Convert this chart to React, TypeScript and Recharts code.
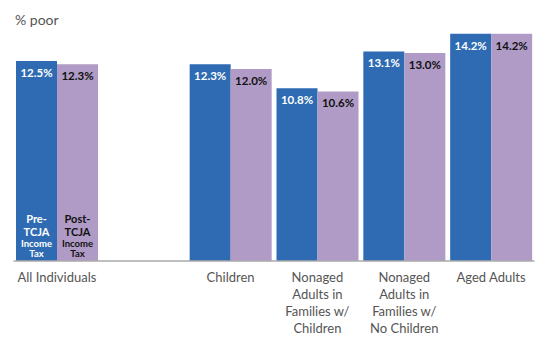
import { BarChart, Bar, XAxis, YAxis, LabelList } from "recharts";

const categories = [
  "All Individuals",
  "",
  "Children",
  "Nonaged\nAdults in\nFamilies w/\nChildren",
  "Nonaged\nAdults in\nFamilies w/\nNo Children",
  "Aged Adults",
];
const preTcja = [12.5, null, 12.3, 10.8, 13.1, 14.2];
const postTcja = [12.3, null, 12.0, 10.6, 13.0, 14.2];

const data = categories.map((name, i) => ({ name, pre: preTcja[i], post: postTcja[i] }));

const BLUE = "#2e6bb3";
const PURPLE = "#af9bc5";
const FONT = "Lato, 'Open Sans', sans-serif";

function CategoryTick(props: any) {
  const { x, y, payload } = props;
  const lines = String(payload.value).split("\n");
  return (
    <text x={x} y={y} textAnchor="middle" fill="#555" fontSize={13} fontFamily={FONT}>
      {lines.map((l, i) => (
        <tspan key={i} x={x} dy={i === 0 ? 13 : 17}>{l}</tspan>
      ))}
    </text>
  );
}

function valueLabel(color: string) {
  return (props: any) => {
    const { x, y, width, value } = props;
    if (value == null) return null;
    return (
      <text x={x + width / 2} y={y + 16} textAnchor="middle" fill={color}
        fontSize={11.5} fontWeight="bold" fontFamily={FONT}>
        {value.toFixed(1)}%
      </text>
    );
  };
}

function seriesLabel(color: string, first: string) {
  return (props: any) => {
    const { x, y, width, height, index } = props;
    if (index !== 0) return null;
    const cx = x + width / 2;
    const bottom = y + height;
    return (
      <text textAnchor="middle" fill={color} fontWeight="bold" fontFamily={FONT}>
        <tspan x={cx} y={bottom - 38} fontSize={11}>{first}</tspan>
        <tspan x={cx} y={bottom - 25} fontSize={11}>TCJA</tspan>
        <tspan x={cx} y={bottom - 14} fontSize={9.5}>Income</tspan>
        <tspan x={cx} y={bottom - 4} fontSize={9.5}>Tax</tspan>
      </text>
    );
  };
}

export default function App() {
  return (
    <div style={{ position: "absolute", left: 0, top: 0, background: "#fff" }}>
      <BarChart
        width={549}
        height={358}
        data={data}
        margin={{ top: 21, right: 14.5, left: 13.5, bottom: 0 }}
        barCategoryGap={2.5}
        barGap={0}
      >
        <text x={15} y={25} fill="#555" fontSize={14} fontFamily={FONT}>% poor</text>
        <YAxis hide domain={[0, 15]} />
        <XAxis
          dataKey="name"
          height={97}
          interval={0}
          tickLine={false}
          axisLine={{ stroke: "#aaa", strokeWidth: 1.5 }}
          tick={<CategoryTick />}
        />
        <Bar dataKey="pre" fill={BLUE} isAnimationActive={false}>
          <LabelList dataKey="pre" content={valueLabel("#fff")} />
          <LabelList dataKey="pre" content={seriesLabel("#fff", "Pre-")} />
        </Bar>
        <Bar dataKey="post" fill={PURPLE} isAnimationActive={false}>
          <LabelList dataKey="post" content={valueLabel("#111")} />
          <LabelList dataKey="post" content={seriesLabel("#111", "Post-")} />
        </Bar>
      </BarChart>
    </div>
  );
}
